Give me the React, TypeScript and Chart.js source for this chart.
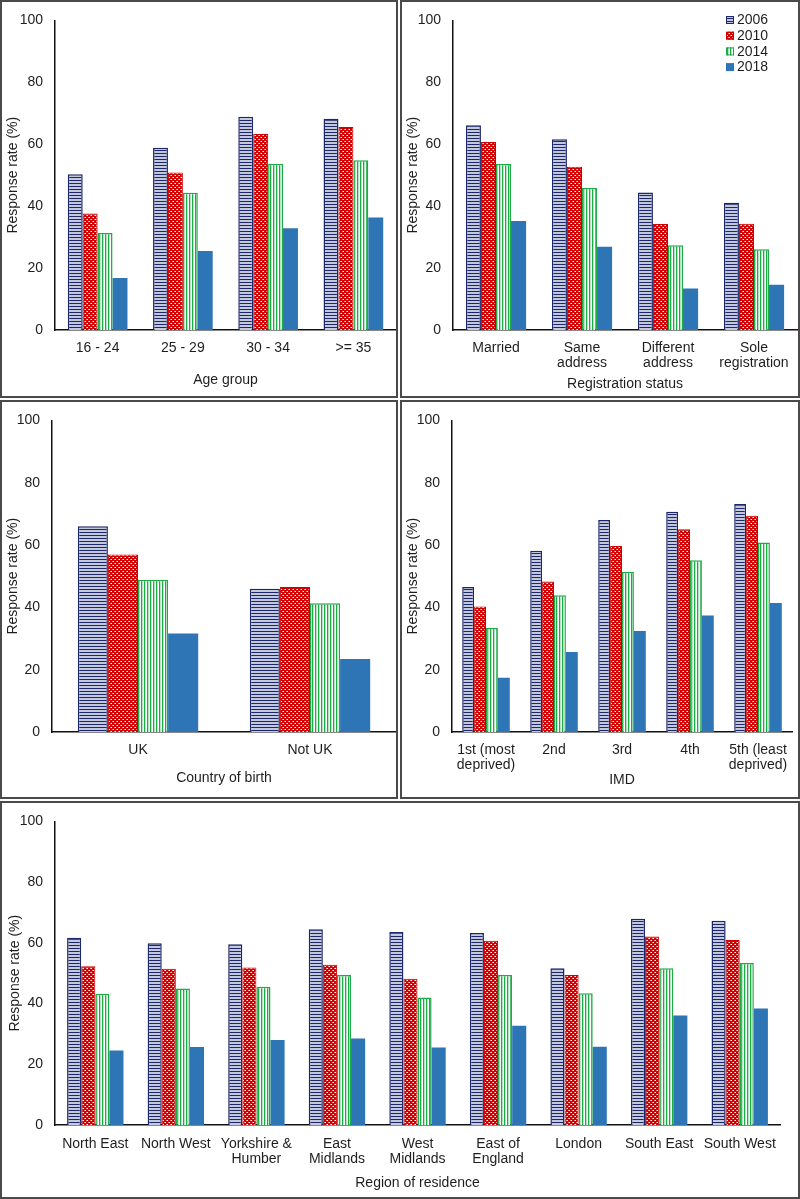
import React, { useEffect, useRef } from 'react';
import { Chart, registerables } from 'chart.js';
Chart.register(...registerables);

const years = ['2006', '2010', '2014', '2018'];

const ageCategories = ['16 - 24', '25 - 29', '30 - 34', '>= 35'];
const age2006 = [50.3, 58.9, 68.9, 68.2];
const age2010 = [37.6, 50.9, 63.3, 65.6];
const age2014 = [31.3, 44.3, 53.7, 54.8];
const age2018 = [16.8, 25.5, 32.9, 36.3];

const regCategories = [['Married'], ['Same', 'address'], ['Different', 'address'], ['Sole', 'registration']];
const reg2006 = [66.1, 61.6, 44.4, 41.1];
const reg2010 = [60.7, 52.7, 34.2, 34.3];
const reg2014 = [53.6, 45.9, 27.4, 26.1];
const reg2018 = [35.2, 26.9, 13.4, 14.6];

const birthCategories = ['UK', 'Not UK'];
const birth2006 = [66.0, 46.0];
const birth2010 = [57.0, 46.5];
const birth2014 = [48.9, 41.3];
const birth2018 = [31.6, 23.4];

const imdCategories = [['1st (most', 'deprived)'], ['2nd'], ['3rd'], ['4th'], ['5th (least', 'deprived)']];
const imd2006 = [46.5, 58.2, 68.0, 70.7, 73.2];
const imd2010 = [40.3, 48.3, 59.7, 65.1, 69.4];
const imd2014 = [33.4, 43.9, 51.4, 55.1, 60.8];
const imd2018 = [17.4, 25.7, 32.4, 37.4, 41.4];

const regionCategories = [
  ['North East'], ['North West'], ['Yorkshire &', 'Humber'], ['East', 'Midlands'], ['West', 'Midlands'],
  ['East of', 'England'], ['London'], ['South East'], ['South West'],
];
const region2006 = [61.7, 59.9, 59.5, 64.5, 63.6, 63.2, 51.6, 67.9, 67.3];
const region2010 = [52.3, 51.5, 51.9, 52.8, 48.2, 60.7, 49.4, 62.1, 60.9];
const region2014 = [43.2, 45.0, 45.5, 49.4, 42.0, 49.4, 43.4, 51.6, 53.4];
const region2018 = [24.5, 25.7, 28.0, 28.5, 25.5, 32.7, 25.8, 36.1, 38.4];

const yTicks = [0, 20, 40, 60, 80, 100];

const FONT = "'Liberation Sans', Arial, Helvetica, sans-serif";
const TEXT = '#1e1e1e';

function makePattern(kind: string): CanvasPattern | string {
  const c = document.createElement('canvas');
  const ctx = c.getContext('2d');
  if (!ctx) return '#888';
  if (kind === 'h') {
    c.width = 3; c.height = 3;
    ctx.fillStyle = '#c3c8dc'; ctx.fillRect(0, 0, 3, 3);
    ctx.fillStyle = '#1b2768'; ctx.fillRect(0, 0, 3, 1);
  } else if (kind === 'dots') {
    c.width = 4; c.height = 4;
    ctx.fillStyle = '#d20000'; ctx.fillRect(0, 0, 4, 4);
    ctx.fillStyle = '#ee8f8f'; ctx.fillRect(0, 1, 1, 1); ctx.fillRect(2, 3, 1, 1);
    ctx.fillStyle = '#ffffff'; ctx.fillRect(1, 1, 1, 1); ctx.fillRect(3, 3, 1, 1);
  } else {
    c.width = 3; c.height = 3;
    ctx.fillStyle = '#ffffff'; ctx.fillRect(0, 0, 3, 3);
    ctx.fillStyle = '#1faa48'; ctx.fillRect(0, 0, 1, 3);
    ctx.fillStyle = '#b5e4c0'; ctx.fillRect(1, 0, 1, 3);
  }
  return ctx.createPattern(c, 'repeat') || '#888';
}

const legendPlugin = {
  id: 'yearLegend',
  afterDraw(chart: any, _args: any, opts: any) {
    if (!opts || !opts.show) return;
    const ctx = chart.ctx;
    chart.data.datasets.forEach((ds: any, i: number) => {
      const y = opts.y + i * opts.step;
      ctx.save();
      ctx.fillStyle = ds.backgroundColor;
      ctx.fillRect(opts.x, y - 4, 8, 8);
      if (ds.borderWidth) {
        ctx.strokeStyle = ds.borderColor;
        ctx.lineWidth = 1;
        ctx.strokeRect(opts.x + 0.5, y - 3.5, 7, 7);
      }
      ctx.fillStyle = TEXT;
      ctx.font = `14px ${FONT}`;
      ctx.textBaseline = 'middle';
      ctx.textAlign = 'left';
      ctx.fillText(ds.label, opts.x + 11, y + 0.5);
      ctx.restore();
    });
  },
};

interface PanelCfg {
  x: number; y: number; w: number; h: number;
  axisX: number; top: number; zeroY: number; right: number;
  yTitlePad: number; xTitlePad: number; tickPad: number;
  title: string;
  labels: any[];
  series: number[][];
  legend?: boolean;
}

const panels: PanelCfg[] = [
  { x: 0, y: 0, w: 398, h: 398, axisX: 55, top: 17, zeroY: 330, right: 396, yTitlePad: 4.5, xTitlePad: 9.6, tickPad: 10,
    title: 'Age group', labels: ageCategories, series: [age2006, age2010, age2014, age2018] },
  { x: 400, y: 0, w: 400, h: 398, axisX: 53, top: 19, zeroY: 330, right: 397, yTitlePad: 4.5, xTitlePad: 5.3, tickPad: 10,
    title: 'Registration status', labels: regCategories, series: [reg2006, reg2010, reg2014, reg2018], legend: true },
  { x: 0, y: 400, w: 398, h: 399, axisX: 52, top: 19, zeroY: 332, right: 396, yTitlePad: 4.5, xTitlePad: 12.9, tickPad: 10,
    title: 'Country of birth', labels: birthCategories, series: [birth2006, birth2010, birth2014, birth2018] },
  { x: 400, y: 400, w: 400, h: 399, axisX: 52, top: 18, zeroY: 332, right: 392, yTitlePad: 4.5, xTitlePad: 10.6, tickPad: 10,
    title: 'IMD', labels: imdCategories, series: [imd2006, imd2010, imd2014, imd2018] },
  { x: 0, y: 801, w: 800, h: 398, axisX: 55, top: 19, zeroY: 324, right: 780, yTitlePad: 6.5, xTitlePad: 7.9, tickPad: 11,
    title: 'Region of residence', labels: regionCategories, series: [region2006, region2010, region2014, region2018] },
];

function Panel({ cfg }: { cfg: PanelCfg }) {
  const ref = useRef<HTMLCanvasElement | null>(null);
  useEffect(() => {
    if (!ref.current) return;
    const fills = [makePattern('h'), makePattern('dots'), makePattern('v'), '#2e75b6'];
    const borders = ['#1b2768', '#d20000', '#1faa48', '#2e75b6'];
    const bw = [1.5, 1, 1.5, 0];
    const chart = new Chart(ref.current, {
      type: 'bar',
      data: {
        labels: cfg.labels,
        datasets: cfg.series.map((d, i) => ({
          label: years[i],
          data: d,
          backgroundColor: fills[i] as any,
          borderColor: borders[i],
          borderWidth: bw[i],
          categoryPercentage: 0.7,
          barPercentage: 1.0,
        })),
      },
      options: {
        responsive: false,
        animation: false,
        events: [],
        layout: { padding: { top: cfg.top, right: cfg.w - cfg.right, left: 0, bottom: 0 } },
        plugins: {
          legend: { display: false },
          tooltip: { enabled: false },
          yearLegend: cfg.legend ? { show: true, x: 326, y: 20, step: 15.7 } : { show: false },
        } as any,
        scales: {
          x: {
            grid: { display: false, drawTicks: false },
            border: { display: true, color: '#111', width: 1.5 },
            ticks: { color: TEXT, font: { family: FONT, size: 14, lineHeight: 1.12 }, padding: cfg.tickPad, maxRotation: 0, autoSkip: false },
            title: { display: true, text: cfg.title, color: TEXT, font: { family: FONT, size: 14, lineHeight: 1.2 }, padding: { top: 0, bottom: cfg.xTitlePad } },
            afterFit: (s: any) => { s.height = cfg.h - cfg.zeroY; },
          },
          y: {
            min: 0, max: 100,
            afterBuildTicks: (s: any) => { s.ticks = yTicks.map((v) => ({ value: v })); },
            grid: { display: false, drawTicks: false },
            border: { display: true, color: '#111', width: 1.5 },
            ticks: { color: TEXT, font: { family: FONT, size: 14 }, padding: 12 },
            title: { display: true, text: 'Response rate (%)', color: TEXT, font: { family: FONT, size: 14, lineHeight: 1.2 }, padding: { top: cfg.yTitlePad, bottom: 0 } },
            afterFit: (s: any) => { s.width = cfg.axisX; },
          },
        },
      },
      plugins: [legendPlugin],
    });
    return () => chart.destroy();
  }, []);
  return (
    <div style={{ position: 'absolute', left: cfg.x, top: cfg.y, width: cfg.w, height: cfg.h }}>
      <canvas ref={ref} width={cfg.w} height={cfg.h} style={{ position: 'absolute', left: 0, top: 0, width: cfg.w, height: cfg.h }} />
      <div style={{ position: 'absolute', left: 0, top: 0, width: cfg.w, height: cfg.h, border: '2px solid #4a4a4a', boxSizing: 'border-box', pointerEvents: 'none' }} />
    </div>
  );
}

export default function App() {
  return (
    <div style={{ position: 'absolute', left: 0, top: 0, width: 800, height: 1199, background: '#fff' }}>
      {panels.map((p, i) => <Panel key={i} cfg={p} />)}
    </div>
  );
}
